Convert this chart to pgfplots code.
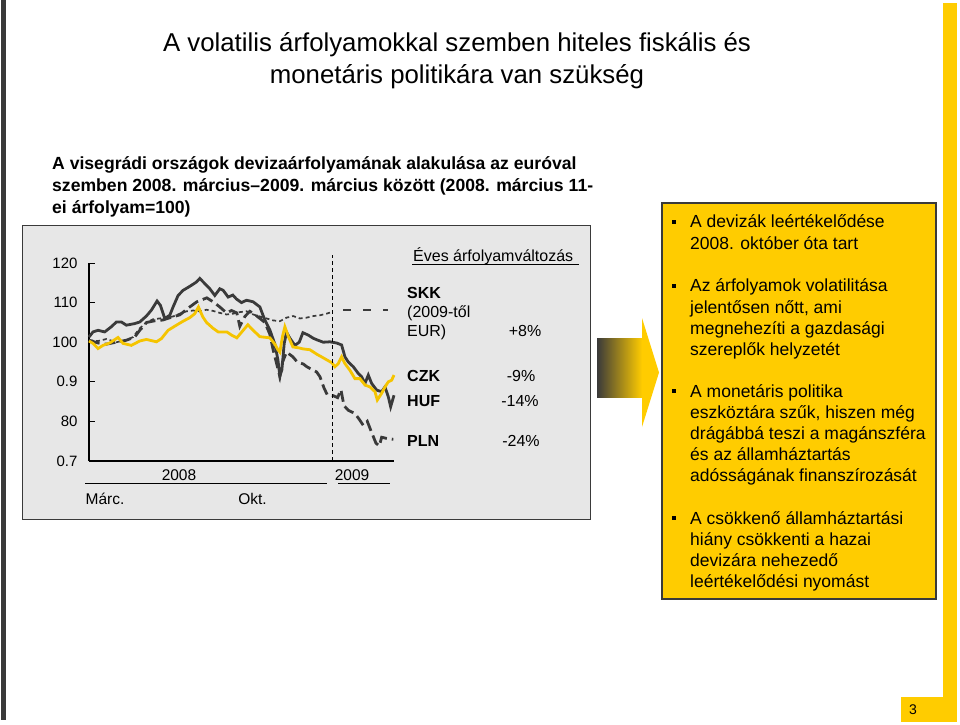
\documentclass[border=0pt]{standalone}
\usepackage{pgfplots}
\pgfplotsset{compat=1.18}
\usepackage{fontspec}
\setmainfont{Liberation Sans}
\definecolor{dk}{RGB}{58,58,58}
\definecolor{yl}{RGB}{255,204,0}
\definecolor{ln}{RGB}{245,196,0}
\definecolor{panel}{RGB}{231,231,231}
\newcommand{\fs}[1]{\fontsize{#1}{#1}\selectfont}
\begin{document}
\begin{tikzpicture}[x=1pt,y=1pt]
\fill[white] (0,0) rectangle (960,724);
% side bars
\fill[dk] (1,4) rectangle (6,724);
\fill[yl] (943,2) rectangle (957,721);
\fill[yl] (901,2) rectangle (957,27);
\node[anchor=base] at (913,10) {\fs{14}3};
% title
\node[anchor=base] at (457,672) {\fs{25.8}A volatilis árfolyamokkal szemben hiteles fiskális és};
\node[anchor=base] at (457,640) {\fs{25.8}monetáris politikára van szükség};
% subtitle
\node[anchor=base west,inner sep=0pt] at (52,554) {\fs{17.6}\bfseries A visegrádi országok devizaárfolyamának alakulása az euróval};
\node[anchor=base west,inner sep=0pt] at (52,532) {\fs{17.6}\bfseries szemben 2008. március–2009. március között (2008. március 11-};
\node[anchor=base west,inner sep=0pt] at (52,510) {\fs{17.6}\bfseries ei árfolyam=100)};
% panel
\filldraw[fill=panel, draw=dk, line width=1pt] (22,205) rectangle (590,498);
% arrow
\shade[left color=dk, right color=yl] (597,327) rectangle (642,386);
\fill[yl] (642,406) -- (659,351.5) -- (642,297) -- cycle;
% yellow box
\filldraw[fill=yl, draw=dk, line width=1.2pt] (662,125) rectangle (936,521);
\foreach \yy/\txt in {
 496/{A devizák leértékelődése},
 475/{2008. október óta tart},
 432/{Az árfolyamok volatilitása},
 411/{jelentősen nőtt, ami},
 390/{megnehezíti a gazdasági},
 369/{szereplők helyzetét},
 327/{A monetáris politika},
 306/{eszköztára szűk, hiszen még},
 285/{drágábbá teszi a magánszféra},
 264/{és az államháztartás},
 243/{adósságának finanszírozását},
 200/{A csökkenő államháztartási},
 179/{hiány csökkenti a hazai},
 158/{devizára nehezedő},
 137/{leértékelődési nyomást}}
 {\node[anchor=base west,inner sep=0pt] at (690,\yy) {\fs{17.5}\txt};}
\foreach \yy in {496,432,327,200}
 {\fill[black] (672.3,\yy+4.2) rectangle (676.3,\yy+8.2);}
% chart
\begin{axis}[at={(89pt,263pt)}, anchor=south west, scale only axis,
  width=305pt, height=198pt, xmin=148, xmax=1062, ymin=70, ymax=120,
  axis x line=bottom, axis y line=left,
  axis line style={-, line width=1.2pt, black},
  xtick=\empty, ytick={70,80,90,100,110,120},
  yticklabels={0.7,80,0.9,100,110,120},
  yticklabel style={font=\fs{15}, xshift=-8pt},
  tick align=inside, major tick length=6pt,
  tick style={line width=1pt, black}, clip=false]
% SKK
\addplot[dk, line width=1.7pt, dash pattern=on 4pt off 3pt] coordinates {
(148,100.5) (175,100.3) (200,100.8) (230,100.0) (260,100.5) (280,101.3)
(300,103.5) (320,105.0) (340,105.8) (360,106.0) (380,106.2) (400,106.5)
(420,107.2) (440,107.8) (460,108.0) (480,107.8) (500,108.2) (520,107.9)
(540,107.4) (560,107.0) (580,107.2) (600,107.6) (620,107.8) (640,107.0)
(660,106.5) (680,106.0) (700,105.5) (720,105.3) (740,106.2) (760,106.6)
(780,106.0) (800,106.2) (820,106.6) (840,106.8) (860,107.2) (878,107.7)};
% EUR (SKK from 2009)
\addplot[dk, line width=2.7pt, dash pattern=on 8pt off 12pt] coordinates {
(910,108.1) (1045,108.1)};
% PLN
\addplot[dk, line width=2.8pt, dash pattern=on 11pt off 5pt] coordinates {
(148,100.5) (175,99.8) (200,99.5) (230,100.0) (260,100.5) (285,101.3)
(300,103.0) (321,105.0) (345,105.4) (369,105.6) (395,106.3) (420,106.9)
(450,108.9) (471,110.2) (501,111.2) (520,110.2) (540,108.9) (560,107.4)
(575,108.0) (591,107.4) (600,104.0) (615,106.5) (630,107.8) (645,107.0)
(660,106.0) (675,105.0) (690,102.0) (700,98.0) (712,94.0) (720,91.3)
(728,95.0) (740,97.5) (759,96.3) (772,95.0) (790,94.5) (801,93.8)
(816,93.1) (830,92.5) (840,91.3) (852,88.5) (862,86.7) (880,86.5)
(893,86.0) (903,88.0) (912,84.0) (925,82.8) (945,82.0) (958,80.5)
(970,79.0) (982,80.0) (995,77.2) (1008,74.5) (1018,73.8) (1025,76.0)
(1045,75.6) (1060,75.5)};
% HUF
\addplot[dk, line width=2.8pt] coordinates {
(148,101.3) (160,102.6) (175,103.0) (195,102.6) (215,103.9) (230,105.1)
(245,105.1) (260,104.3) (285,104.7) (300,105.1) (320,106.6) (335,108.1)
(352,110.4) (362,109.3) (375,106.0) (390,106.8) (400,108.9) (415,111.8)
(430,113.1) (450,114.1) (470,115.2) (480,116.1) (495,114.8) (510,113.5)
(525,111.8) (540,113.5) (550,113.1) (565,111.4) (579,111.9) (590,110.9)
(605,110.0) (620,110.6) (640,110.2) (660,108.9) (675,105.6) (690,103.1)
(705,99.5) (714,95.6) (720,91.5) (726,93.0) (733,99.7) (740,102.5)
(750,101.0) (765,99.2) (778,100.0) (789,102.4) (805,101.8) (820,101.0)
(831,100.6) (850,100.0) (870,100.1) (890,99.8) (905,99.3)
(915,96.3) (925,95.0) (940,93.8) (955,92.1) (965,91.3) (975,89.6)
(985,91.7) (995,89.6) (1010,87.9) (1025,87.5) (1035,88.7) (1045,86.2)
(1052,83.7) (1062,86.6)};
% CZK
\addplot[ln, line width=2.8pt] coordinates {
(148,100.3) (160,99.7) (175,98.4) (190,99.2) (210,99.8) (235,101.2)
(250,99.7) (275,99.2) (300,100.3) (320,100.7) (350,100.1) (365,100.9)
(385,103.0) (410,104.3) (430,105.3) (450,106.2) (465,107.2) (476,108.9)
(489,106.4) (500,105.0) (520,103.5) (535,102.6) (561,102.6) (575,101.8)
(591,101.1) (610,103.0) (624,104.4) (640,103.0) (660,101.4) (690,101.1)
(705,99.5) (714,98.1) (720,97.5) (728,101.5) (735,103.9) (745,101.5)
(759,98.8) (775,98.6) (790,98.3) (810,98.1) (830,97.0) (849,96.1)
(876,94.8) (885,93.8) (895,94.6) (905,96.3)
(915,94.6) (930,92.9) (945,90.8) (960,90.8) (975,89.2) (990,88.7)
(1005,87.5) (1012,85.4) (1025,87.1) (1035,88.7) (1045,90.0) (1055,90.4)
(1062,91.7)};
% 2009 divider
\addplot[black, line width=1pt, dash pattern=on 4pt off 3pt] coordinates {(878,70) (878,121.9)};
\end{axis}
% chart labels
\node[anchor=base] at (179,244) {\fs{15.5}2008};
\draw[black, line width=1pt] (85,241) -- (327,241);
\node[anchor=base] at (352,244) {\fs{15.5}2009};
\draw[black, line width=1pt] (338,241) -- (390,241);
\node[anchor=base] at (105,220) {\fs{15.5}Márc.};
\node[anchor=base] at (252.5,220) {\fs{15.5}Okt.};
% legend
\node[anchor=base west,inner sep=0pt] at (413,463) {\fs{16}Éves árfolyamváltozás};
\draw[black, line width=0.8pt] (412,460) -- (579,460);
\node[anchor=base west,inner sep=0pt] at (407,425.7) {\fs{16}\bfseries SKK};
\node[anchor=base west,inner sep=0pt] at (407,406.7) {\fs{16}(2009-től};
\node[anchor=base west,inner sep=0pt] at (407,388) {\fs{16}EUR)};
\node[anchor=base,inner sep=0pt] at (525,388) {\fs{16}+8\%};
\node[anchor=base west,inner sep=0pt] at (407,342.3) {\fs{16}\bfseries CZK};
\node[anchor=base,inner sep=0pt] at (521,342.3) {\fs{16}-9\%};
\node[anchor=base west,inner sep=0pt] at (407,317.3) {\fs{16}\bfseries HUF};
\node[anchor=base,inner sep=0pt] at (520,317.3) {\fs{16}-14\%};
\node[anchor=base west,inner sep=0pt] at (407,277.3) {\fs{16}\bfseries PLN};
\node[anchor=base,inner sep=0pt] at (521,277.3) {\fs{16}-24\%};
\end{tikzpicture}
\end{document}
